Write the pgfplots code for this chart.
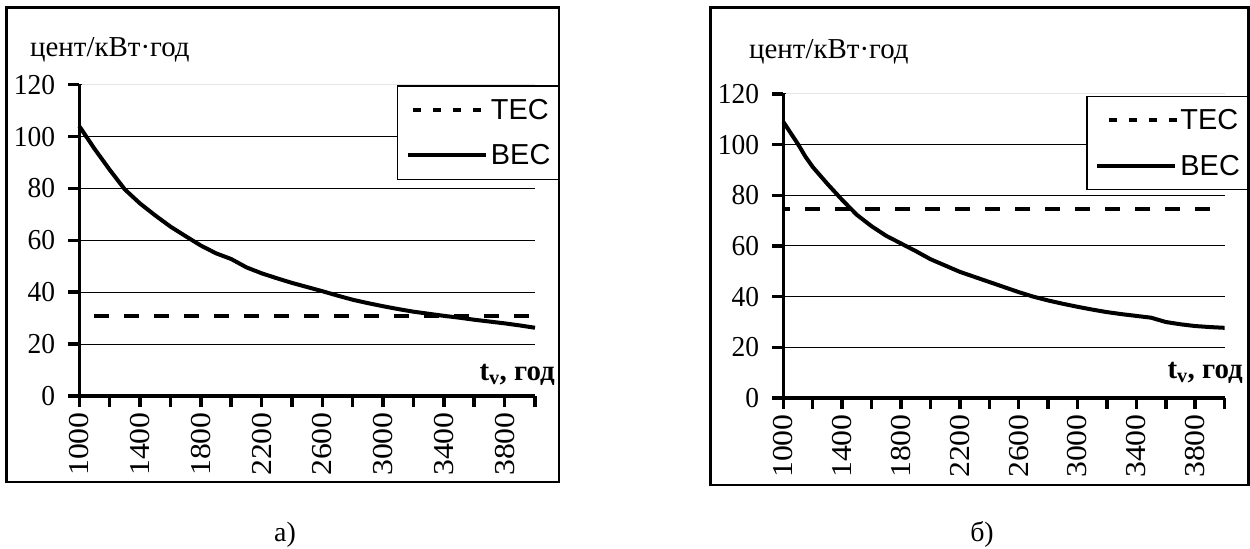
\documentclass[border=0pt]{standalone}
\usepackage{fontspec}
\setmainfont{Liberation Serif}
\newfontfamily\arialfont{Liberation Sans}
\usepackage{pgfplots}
\pgfplotsset{compat=1.18}
\newcommand\legfont{\arialfont\fontsize{29}{31}\selectfont}
\newcommand\tickfont{\rmfamily\fontsize{29}{31}\selectfont}
\newcommand\xtickfont{\rmfamily\fontsize{29}{31}\selectfont}
\newcommand\labfont{\rmfamily\fontsize{29}{31}\selectfont}

\pgfplotstableread{
x y
1000 104
1100 95.3
1200 87.2
1300 79.6
1400 74.2
1500 69.6
1600 65.3
1700 61.6
1800 58.0
1900 55.0
2000 52.8
2100 49.6
2200 47.3
2300 45.4
2400 43.6
2500 42.0
2600 40.4
2700 38.7
2800 37.1
2900 35.8
3000 34.6
3100 33.5
3200 32.5
3300 31.7
3400 30.9
3500 30.2
3600 29.4
3700 28.7
3800 28.0
3900 27.2
4000 26.3
}\becA
\pgfplotstableread{
x y
1000 30.7
4000 30.7
}\tecA
\pgfplotstableread{
x y
1000 109
1100 100.2
1150 95.3
1200 91.2
1300 84.5
1400 78.2
1500 72.3
1600 67.8
1700 64.0
1800 61.0
1900 58.0
2000 54.8
2100 52.3
2200 49.8
2300 47.8
2400 45.8
2500 43.8
2600 41.8
2700 40.0
2800 38.5
2900 37.2
3000 36.0
3100 34.9
3200 33.9
3300 33.1
3400 32.4
3500 31.7
3600 30.0
3700 29.1
3800 28.4
3900 28.0
4000 27.7
}\becB
\pgfplotstableread{
x y
1000 74.5
4000 74.5
}\tecB

\pgfplotsset{
  myaxis/.style={
    scale only axis,
    anchor=south west,
    xmin=1000, xmax=4000, ymin=0, ymax=120,
    axis lines=left,
    axis line style={-, line width=3.5bp},
    tick style={line width=3.5bp, black},
    tick align=outside,
    major tick length=11bp, minor tick length=11bp,
    xtick={1000,1400,...,3800},
    minor xtick={1200,1600,...,4000},
    ytick={0,20,...,120},
    ymajorgrids=true,
    major grid style={line width=1bp, black},
    /pgf/number format/assume math mode=true,
    /pgf/number format/1000 sep={},
    yticklabel style={font=\tickfont, inner sep=0pt, xshift=-13bp, xscale=0.95},
    xticklabel style={font=\xtickfont, inner sep=0pt, yshift=-5bp, rotate=90, xscale=1.1, anchor=east},
    clip=false,
    legend cell align=left,
  },
  tecstyle/.style={black, line width=4bp,
    legend image code/.code={\draw[black, line width=4.5bp, dash pattern=on 8bp off 12bp] (0bp,0bp) -- (81bp,0bp);}},
  becstyle/.style={black, line width=4bp, line join=round,
    legend image code/.code={\draw[black, line width=4bp] (0bp,0bp) -- (78bp,0bp);}},
  mylegend/.style={
    legend style={at={(rel axis cs:#1)}, anchor=north east,
    draw=black, line width=1.3bp, fill=white, inner xsep=8bp, inner ysep=13bp,
    font=\legfont, row sep=24bp, nodes={inner sep=0pt},
    /tikz/every even column/.append style={column sep=9bp}}},
}

\begin{document}
\begin{tikzpicture}
\useasboundingbox (0,0) rectangle (1250bp,549bp);
% frames
\draw[line width=2.5bp] (6.3bp,541.3bp) rectangle (559bp,67bp);
\draw[line width=2.5bp] (710.7bp,541.3bp) rectangle (1248.5bp,64bp);

\begin{axis}[myaxis,
  at={(79.3bp,153bp)}, width=455.7bp, height=311.3bp,
  mylegend={1.0527,0.998},
]
\draw[white, line width=1.6bp] ([xshift=2.5bp]rel axis cs:0,1) -- (rel axis cs:1,1);
\draw[gray!20, line width=1bp] ([xshift=2.5bp]rel axis cs:0,1) -- (rel axis cs:1,1);
\addplot[tecstyle, dash pattern=on 15bp off 15bp, dash phase=15bp] table {\tecA};
\addlegendentry{ТЕС}
\addplot[becstyle] table {\becA};
\addlegendentry{ВЕС}
\end{axis}

\begin{axis}[myaxis,
  at={(783.3bp,151bp)}, width=441.3bp, height=304bp,
  mylegend={1.0542,0.995},
]
\draw[white, line width=1.6bp] ([xshift=2.5bp]rel axis cs:0,1) -- (rel axis cs:1,1);
\draw[gray!20, line width=1bp] ([xshift=2.5bp]rel axis cs:0,1) -- (rel axis cs:1,1);
\addplot[tecstyle, dash pattern=on 15bp off 15bp, dash phase=8.3bp] table {\tecB};
\addlegendentry{ТЕС}
\addplot[becstyle] table {\becB};
\addlegendentry{ВЕС}
\end{axis}

% labels
\node[anchor=base west, inner sep=0pt, font=\labfont] at (30bp,492bp) {цент/кВт·год};
\node[anchor=base west, inner sep=0pt, font=\labfont] at (749bp,490bp) {цент/кВт·год};
\node[anchor=base east, inner sep=0pt, font=\labfont\bfseries] at (555bp,168bp) {t\textsubscript{v}, год};
\node[anchor=base east, inner sep=0pt, font=\labfont\bfseries] at (1243bp,170bp) {t\textsubscript{v}, год};
\node[anchor=base, inner sep=0pt, font=\rmfamily\fontsize{28}{30}\selectfont] at (285bp,7.3bp) {а)};
\node[anchor=base, inner sep=0pt, font=\rmfamily\fontsize{28}{30}\selectfont] at (982bp,7.3bp) {б)};
\end{tikzpicture}
\end{document}
